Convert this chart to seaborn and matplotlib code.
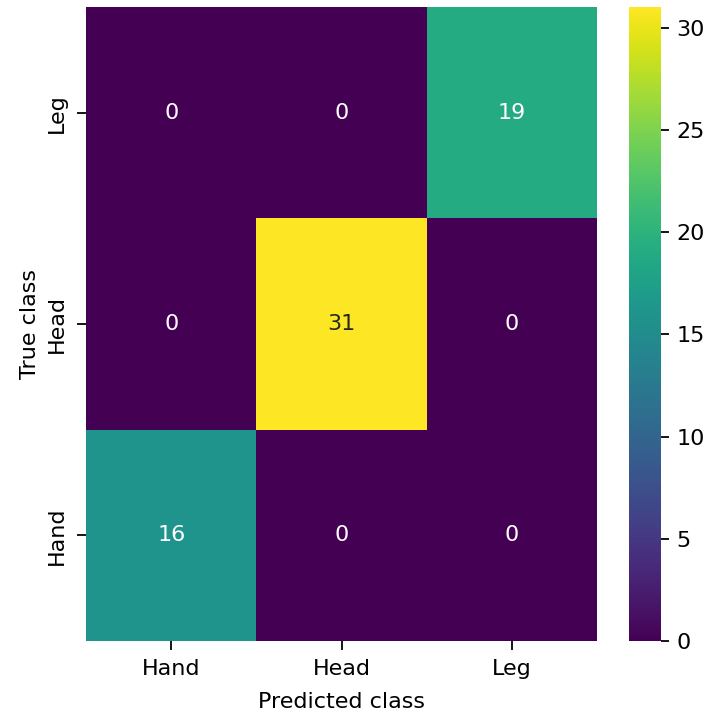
import matplotlib
matplotlib.use("Agg")
import matplotlib.pyplot as plt
import seaborn as sns
import numpy as np
import pandas as pd

true_labels = ["Leg", "Head", "Hand"]
pred_labels = ["Hand", "Head", "Leg"]
row_leg = [0, 0, 19]
row_head = [0, 31, 0]
row_hand = [16, 0, 0]

df = pd.DataFrame([row_leg, row_head, row_hand], index=true_labels, columns=pred_labels)

DPI = 160
fig = plt.figure(figsize=(705 / DPI, 713 / DPI), dpi=DPI)
ax = fig.add_axes([0.122, 0.101, 0.725, 0.889])
cax = fig.add_axes([0.892, 0.101, 0.045, 0.889])
sns.heatmap(df, annot=True, fmt="d", cmap="viridis", ax=ax, cbar_ax=cax)
ax.set_xlabel("Predicted class", labelpad=5.8)
ax.set_ylabel("True class", labelpad=3.2)
ax.tick_params(axis="x", length=4, pad=4.2)
ax.tick_params(axis="y", length=4, pad=4.5)
fig.savefig("out.png", dpi=DPI)
